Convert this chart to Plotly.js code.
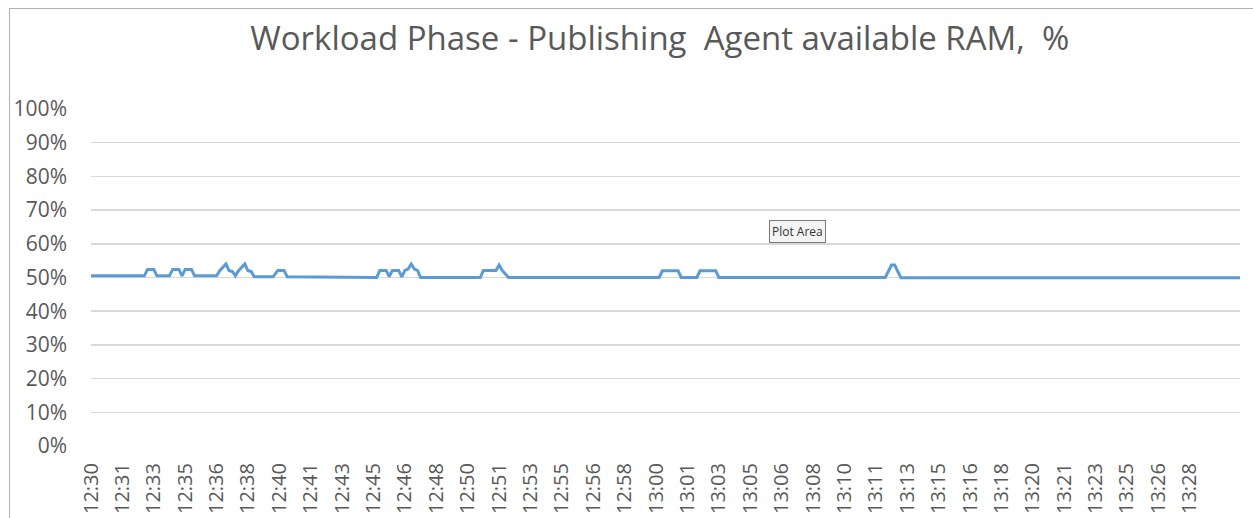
<!DOCTYPE html>
<html>
<head>
<meta charset="utf-8">
<script src="https://cdn.plot.ly/plotly-3.0.1.min.js"></script>
<style>
  html, body { margin: 0; padding: 0; background: #ffffff; overflow: hidden; }
  #chart { width: 1253px; height: 518px; }
  #frame { position: absolute; left: 9px; top: 8px; width: 1300px; height: 600px;
           border-left: 1px solid #b0b0b0; border-top: 1px solid #b0b0b0; pointer-events: none; }
</style>
</head>
<body>
<div id="chart"></div>
<div id="frame"></div>
<script>
// Breakpoints of the line (time of day, available RAM %)
const times = [
  "12:30:00", "12:32:50", "12:33:00", "12:33:20", "12:33:30",
  "12:34:10", "12:34:20", "12:34:40", "12:34:50", "12:35:00", "12:35:20", "12:35:30",
  "12:36:40", "12:36:50", "12:37:10", "12:37:20", "12:37:30", "12:37:40",
  "12:37:50", "12:38:10", "12:38:20", "12:38:30", "12:38:40",
  "12:39:40", "12:39:55", "12:40:15", "12:40:25",
  "12:41:40", "12:41:50",
  "12:45:10", "12:45:20", "12:45:40", "12:45:50", "12:46:00", "12:46:20", "12:46:30",
  "12:46:40", "12:46:50", "12:47:00", "12:47:10", "12:47:20", "12:47:30",
  "12:50:40", "12:50:50", "12:51:30", "12:51:40", "12:51:50", "12:52:10",
  "13:00:10", "13:00:20", "13:01:10", "13:01:20",
  "13:02:10", "13:02:20", "13:03:10", "13:03:20",
  "13:12:10", "13:12:30", "13:12:40", "13:13:00",
  "13:31:00"
];
const ramPct = [
  50.5, 50.5, 52.4, 52.4, 50.5,
  50.5, 52.4, 52.4, 50.5, 52.4, 52.4, 50.5,
  50.5, 52.0, 54.0, 52.0, 51.8, 50.5,
  52.0, 54.0, 52.0, 51.8, 50.2,
  50.2, 52.1, 52.1, 50.2,
  50.2, 50.0,
  50.0, 52.1, 52.1, 50.3, 52.1, 52.1, 50.2,
  52.1, 52.5, 54.0, 52.5, 52.1, 50.0,
  50.0, 52.1, 52.1, 53.7, 52.1, 50.0,
  50.0, 52.0, 52.0, 50.0,
  50.0, 52.0, 52.0, 50.0,
  50.0, 53.7, 53.7, 49.9,
  49.9
];
// Category-style labels shown on the x axis (every 100 s)
const xTickTimes = [
  "12:30:00", "12:31:40", "12:33:20", "12:35:00", "12:36:40", "12:38:20",
  "12:40:00", "12:41:40", "12:43:20", "12:45:00", "12:46:40", "12:48:20",
  "12:50:00", "12:51:40", "12:53:20", "12:55:00", "12:56:40", "12:58:20",
  "13:00:00", "13:01:40", "13:03:20", "13:05:00", "13:06:40", "13:08:20",
  "13:10:00", "13:11:40", "13:13:20", "13:15:00", "13:16:40", "13:18:20",
  "13:20:00", "13:21:40", "13:23:20", "13:25:00", "13:26:40", "13:28:20"
];
const xTickText = [
  "12:30", "12:31", "12:33", "12:35", "12:36", "12:38",
  "12:40", "12:41", "12:43", "12:45", "12:46", "12:48",
  "12:50", "12:51", "12:53", "12:55", "12:56", "12:58",
  "13:00", "13:01", "13:03", "13:05", "13:06", "13:08",
  "13:10", "13:11", "13:13", "13:15", "13:16", "13:18",
  "13:20", "13:21", "13:23", "13:25", "13:26", "13:28"
];
const day = "2024-01-01 ";
const xRange = ["12:30:00", "13:31:00"];
const yTickVals = [0, 10, 20, 30, 40, 50, 60, 70, 80, 90, 100];
const yTickText = ["0%", "10%", "20%", "30%", "40%", "50%", "60%", "70%", "80%", "90%", "100%"];

const trace = {
  x: times.map(t => day + t),
  y: ramPct,
  type: "scatter",
  mode: "lines",
  line: { color: "#5b9bd5", width: 3, shape: "linear" },
  hoverinfo: "skip",
  showlegend: false
};

const font = "'Open Sans', 'Segoe UI', 'DejaVu Sans', sans-serif";

const layout = {
  width: 1253,
  height: 518,
  margin: { l: 91, r: 13, t: 109, b: 72 },
  paper_bgcolor: "#ffffff",
  plot_bgcolor: "#ffffff",
  font: { family: font, color: "#595959" },
  title: {
    text: "Workload Phase - Publishing\u00a0 Agent available RAM,\u00a0 %",
    font: { family: font, size: 33, color: "#595959" },
    xref: "paper", x: 0.495, xanchor: "center",
    yref: "container", y: 1 - 38 / 518, yanchor: "middle"
  },
  xaxis: {
    type: "date",
    range: xRange.map(t => day + t),
    tickmode: "array",
    tickvals: xTickTimes.map(t => day + t),
    ticktext: xTickText,
    tickangle: -90,
    tickfont: { family: font, size: 20, color: "#595959" },
    showgrid: false,
    zeroline: false,
    showline: false,
    ticks: "",
    ticklabelstandoff: 12,
    fixedrange: true
  },
  yaxis: {
    range: [0, 100],
    tickvals: yTickVals,
    ticktext: yTickText,
    tickfont: { family: font, size: 21, color: "#595959" },
    showgrid: true,
    gridcolor: "#d9d9d9",
    gridwidth: 1.5,
    zeroline: false,
    showline: false,
    ticks: "",
    ticklabelstandoff: 23,
    fixedrange: true
  },
  annotations: [{
    text: "Plot Area",
    xref: "paper", yref: "paper",
    x: (797 - 91) / 1149, y: (446 - 231) / 337,
    xanchor: "center", yanchor: "middle",
    showarrow: false,
    font: { family: font, size: 12, color: "#333333" },
    bgcolor: "#f4f4f4",
    bordercolor: "#7a7a7a",
    borderwidth: 1,
    borderpad: 2
  }]
};

Plotly.newPlot("chart", [trace], layout, { displayModeBar: false, staticPlot: true });
</script>
</body>
</html>
